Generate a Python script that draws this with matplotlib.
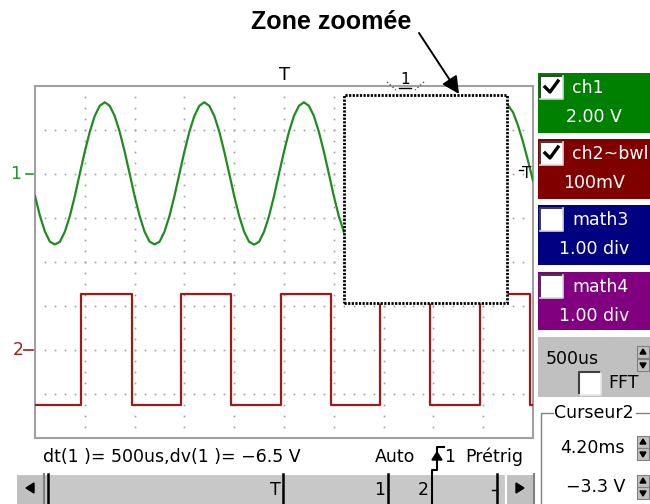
import numpy as np
import matplotlib.pyplot as plt
from matplotlib.patches import Rectangle, Polygon

plt.rcParams['font.family'] = ['DejaVu Sans']

# ch1 (sine) in volts, one sample every 0.05 ms from 0 to 5 ms
ch1_volts = [
    -1.00, -1.91, -2.62, -3.08, -3.20, -3.08, -2.62, -1.91, -1.00, 0.02,
    1.02, 1.92, 2.64, 3.10, 3.26, 3.10, 2.64, 1.92, 1.02, 0.02,
    -1.00, -1.90, -2.62, -3.07, -3.20, -3.08, -2.62, -1.91, -1.00, 0.01,
    1.02, 1.92, 2.64, 3.10, 3.26, 3.10, 2.64, 1.93, 1.02, 0.02,
    -1.00, -1.91, -2.63, -3.08, -3.21, -3.08, -2.62, -1.91, -1.00, 0.02,
    1.02, 1.92, 2.64, 3.10, 3.26, 3.10, 2.64, 1.92, 1.02, 0.02,
    -1.00, -1.91, -2.62, -3.08, -3.20, -3.08, -2.62, -1.90, -1.00, 0.02,
    1.02, 1.92, 2.64, 3.10, 3.26, 3.10, 2.64, 1.92, 1.02, 0.02,
    -1.00, -1.91, -2.62, -3.08, -3.20, -3.08, -2.62, -1.91, -1.00, 0.02,
    1.02, 1.92, 2.64, 3.10, 3.26, 3.12, 2.80, 2.20, 1.45, 0.60,
    -0.30,
]

# ch2 (square) : edge times in ms, levels in mV
ch2_edges_ms = [0.46, 0.97, 1.47, 1.97, 2.47, 2.97, 3.46, 3.97, 4.47, 4.97]
ch2_high_mv = 127
ch2_low_mv = -125

timebase_ms = 0.5      # 500us / div
ch1_scale = 2.0        # V / div
ch2_scale = 100.0      # mV / div
ch1_ground = 2         # div
ch2_ground = -2

zoom_zone = (3.10, 4.74, -0.93, 3.80)   # t0, t1, y0, y1

panels = [
    ("ch1", "2.00 V", "#008000", True, 73, 133),
    ("ch2~bwl", "100mV", "#800000", True, 139, 199),
    ("math3", "1.00 div", "#000080", False, 205, 265),
    ("math4", "1.00 div", "#800080", False, 272, 330),
]

fig = plt.figure(figsize=(6.5, 5.04), dpi=100)
fig.patch.set_facecolor('white')

# ---- scope screen ----
ax = fig.add_axes([35/650, 66/504, 498/650, 352/504])
ax.set_xlim(0, 10 * timebase_ms)
ax.set_ylim(-4, 4)
ax.set_xticks([])
ax.set_yticks([])
for s in ax.spines.values():
    s.set_color('#a0a0a0')
    s.set_linewidth(1.5)

dot_col = '#a0a0a0'
yy = np.arange(-4, 4.001, 0.25)[1:-1]
for k in range(1, 10):
    ax.plot(np.full(len(yy), k * timebase_ms), yy, ls='none', marker='s',
            ms=1.2, mew=0, color=dot_col)
xx = np.arange(0, 5.0001, 0.1)[1:-1]
for ym in range(-3, 4):
    ax.plot(xx, np.full(len(xx), ym), ls='none', marker='s',
            ms=1.2, mew=0, color=dot_col)

t1 = np.linspace(0, 10 * timebase_ms, len(ch1_volts))
ax.plot(t1, np.array(ch1_volts) / ch1_scale + ch1_ground,
        color='#1e8c1e', lw=1.6, zorder=3)

sq_t = [0.0]
sq_v = [ch2_low_mv]
level = ch2_low_mv
for e in ch2_edges_ms:
    sq_t.append(e)
    sq_v.append(level)
    level = ch2_high_mv if level == ch2_low_mv else ch2_low_mv
    sq_t.append(e)
    sq_v.append(level)
sq_t.append(10 * timebase_ms)
sq_v.append(level)
ax.plot(sq_t, np.array(sq_v) / ch2_scale + ch2_ground,
        color='#9b1b1b', lw=1.6, zorder=3)

z0, z1, zy0, zy1 = zoom_zone
ax.add_patch(Rectangle((z0, zy0), z1 - z0, zy1 - zy0, facecolor='white',
                       edgecolor='black', lw=2.0, linestyle=(0, (0.8, 0.5)),
                       zorder=10))

# ---- overlay in pixel coordinates ----
ov = fig.add_axes([0, 0, 1, 1], zorder=5)
ov.set_xlim(0, 650)
ov.set_ylim(504, 0)
ov.axis('off')
ov.patch.set_alpha(0)

fs = 12.5

ov.text(331, 22, "Zone zoomée", fontsize=18, fontweight='bold',
        family='Liberation Sans', ha='center', va='center')
ov.annotate('', xy=(459, 94), xytext=(419, 33),
            arrowprops=dict(arrowstyle='-|>', color='black', lw=1.4,
                            mutation_scale=26, shrinkA=0, shrinkB=0))

# channel ground markers
ov.text(16, 174, "1", color='#2a962a', fontsize=fs, ha='center', va='center')
ov.plot([26, 33], [174, 174], color='#2a962a', lw=1.2)
ov.text(18, 350, "2", color='#a01e1e', fontsize=fs, ha='center', va='center')
ov.plot([24, 33], [350, 350], color='#a01e1e', lw=1.2)

# trigger / cursor markers on top
ov.text(285, 75, "T", fontsize=13, ha='center', va='center')
ov.text(405, 80, "1", fontsize=11, ha='center', va='center')
ov.plot([399, 411], [88, 88], color='black', lw=1)
ov.plot([387, 396], [82, 90], color='#555555', lw=1, ls=':')
ov.plot([424, 415], [82, 90], color='#555555', lw=1, ls=':')
ov.text(527, 174, "T", fontsize=11, ha='center', va='center')
ov.plot([519, 523], [170, 170], color='black', lw=1)

# measure line
ov.text(43, 457, "dt(1 )= 500us,dv(1 )= \u22126.5 V", fontsize=fs,
        ha='left', va='center')
ov.text(375, 457, "Auto", fontsize=fs, ha='left', va='center')
ov.text(444, 457, "1", fontsize=fs, ha='left', va='center')
ov.text(465, 457, "Prétrig", fontsize=fs, ha='left', va='center')

# scrollbar
ov.add_patch(Rectangle((15, 473), 520, 31, facecolor='#c8c8c8',
                       edgecolor='none'))
ov.plot([15, 535], [474, 474], color='white', lw=1.5)
for bx in (15, 505):
    ov.add_patch(Rectangle((bx, 473), 30, 31, facecolor='#c0c0c0',
                           edgecolor='none'))
    ov.plot([bx + 1, bx + 1, bx + 29], [504, 474, 474], color='white', lw=1.5)
    ov.plot([bx + 29, bx + 29], [474, 504], color='#808080', lw=1.5)
ov.add_patch(Polygon([[26, 488], [34, 483], [34, 493]], color='black'))
ov.add_patch(Polygon([[524, 488], [516, 483], [516, 493]], color='black'))
ov.plot([48, 48], [474, 504], color='black', lw=1.8)
ov.text(275, 490, "T", fontsize=fs, ha='center', va='center')
ov.plot([283, 283], [474, 504], color='black', lw=1.8)
ov.text(380, 490, "1", fontsize=fs, ha='center', va='center')
ov.plot([388, 388], [474, 504], color='black', lw=1.8)
ov.text(423, 490, "2", fontsize=fs, ha='center', va='center')
ov.plot([432, 432, 437, 437, 444], [504, 470, 470, 447, 447],
        color='black', lw=1.5)
ov.add_patch(Polygon([[437, 452], [432, 460], [442, 460]], color='black'))
ov.plot([497, 497], [474, 504], color='black', lw=1.8)
ov.plot([492, 497], [490, 490], color='black', lw=1)

# channel panels
for name, val, col, checked, top, bot in panels:
    ov.add_patch(Rectangle((538, top), 112, bot - top, facecolor=col,
                           edgecolor='none'))
    ov.add_patch(Rectangle((540, top + 3), 23, 23, facecolor='white',
                           edgecolor='none'))
    ov.plot([540, 540, 563], [top + 26, top + 3, top + 3],
            color='#404040', lw=1.5)
    ov.plot([540, 563, 563], [top + 26, top + 26, top + 3],
            color='#d8d8d8', lw=1.2)
    if checked:
        ov.plot([545, 550, 558], [top + 14, top + 19, top + 8],
                color='black', lw=2.4)
    ov.text(572, top + 15, name, color='white', fontsize=fs,
            ha='left', va='center')
    ov.text(594, top + 44, val, color='white', fontsize=fs,
            ha='center', va='center')

# timebase panel
ov.add_patch(Rectangle((538, 337), 112, 60, facecolor='#c0c0c0',
                       edgecolor='none'))
ov.text(546, 359, "500us", fontsize=fs, ha='left', va='center')
for sy, up in ((346, True), (359, False)):
    ov.add_patch(Rectangle((637, sy), 12, 12, facecolor='#c0c0c0',
                           edgecolor='#808080', lw=0.8))
    if up:
        ov.add_patch(Polygon([[643, sy + 3], [640, sy + 8], [646, sy + 8]],
                             color='black'))
    else:
        ov.add_patch(Polygon([[643, sy + 9], [640, sy + 4], [646, sy + 4]],
                             color='black'))
ov.add_patch(Rectangle((579, 372), 22, 23, facecolor='white',
                       edgecolor='none'))
ov.plot([579, 579, 601], [395, 372, 372], color='#404040', lw=1.5)
ov.plot([579, 601, 601], [395, 395, 372], color='#e8e8e8', lw=1.2)
ov.text(608, 383, "FFT", fontsize=fs, ha='left', va='center')

# Curseur2 group
ov.plot([553, 541, 541], [413, 413, 504], color='#808080', lw=1)
ov.plot([636, 650], [413, 413], color='#808080', lw=1)
ov.text(594, 413, "Curseur2", fontsize=fs, ha='center', va='center')
ov.text(625, 448, "4.20ms", fontsize=fs, ha='right', va='center')
ov.text(625, 487, "\u22123.3 V", fontsize=fs, ha='right', va='center')
for cy in (448, 487):
    for sy, up in ((cy - 12, True), (cy, False)):
        ov.add_patch(Rectangle((637, sy), 12, 12, facecolor='#c0c0c0',
                               edgecolor='#808080', lw=0.8))
        if up:
            ov.add_patch(Polygon([[643, sy + 3], [640, sy + 8], [646, sy + 8]],
                                 color='black'))
        else:
            ov.add_patch(Polygon([[643, sy + 9], [640, sy + 4], [646, sy + 4]],
                                 color='black'))

fig.savefig('out.png', dpi=100)
